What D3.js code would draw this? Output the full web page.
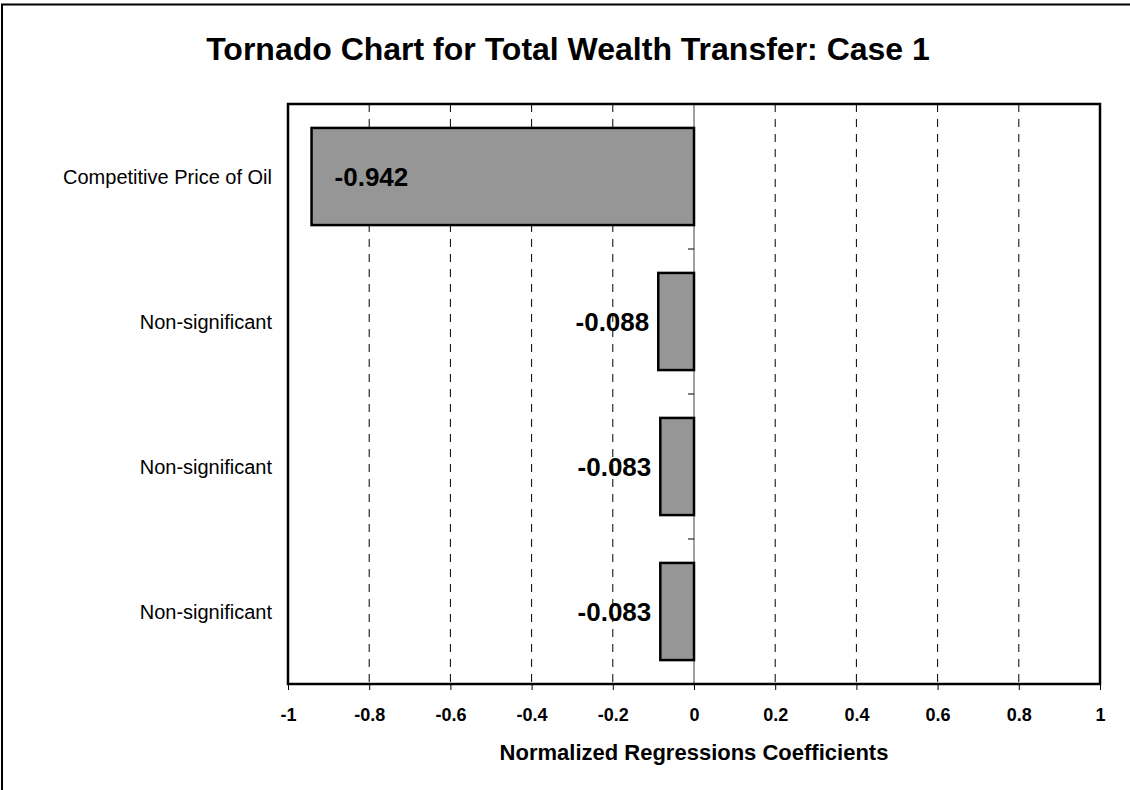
<!DOCTYPE html>
<html>
<head>
<meta charset="utf-8">
<script src="https://cdn.jsdelivr.net/npm/d3@7"></script>
<style>
  body { margin: 0; background: #fff; }
  svg { font-family: Arial, "Liberation Sans", sans-serif; }
</style>
</head>
<body>
<svg id="chart"></svg>
<script>
// Chart data
const categories = ["Competitive Price of Oil", "Non-significant", "Non-significant", "Non-significant"];
const coefficients = [-0.942, -0.088, -0.083, -0.083];
const xTicks = [-1, -0.8, -0.6, -0.4, -0.2, 0, 0.2, 0.4, 0.6, 0.8, 1];

const width = 1130;
const height = 790;
const margin = { top: 104, right: 30, bottom: 106, left: 288 };

const svg = d3.select("#chart")
    .attr("width", width)
    .attr("height", height);

// outer chart border (right and bottom edges fall outside the picture)
svg.append("rect")
    .attr("x", 2).attr("y", 4.5)
    .attr("width", width + 10).attr("height", height + 10)
    .attr("fill", "white")
    .attr("stroke", "black")
    .attr("stroke-width", 2);

const x = d3.scaleLinear()
    .domain([-1, 1])
    .range([margin.left, width - margin.right]);

const y = d3.scaleBand()
    .domain(d3.range(categories.length))
    .range([margin.top, height - margin.bottom])
    .paddingInner(0.33)
    .paddingOuter(0.165);

const plotTop = margin.top;
const plotBottom = height - margin.bottom;

// title
svg.append("text")
    .attr("x", 568)
    .attr("y", 60)
    .attr("text-anchor", "middle")
    .style("font-size", "32px")
    .style("font-weight", "bold")
    .text("Tornado Chart for Total Wealth Transfer: Case 1");

// dashed gridlines
svg.append("g")
    .selectAll("line")
    .data(xTicks.filter(d => d !== 0 && Math.abs(d) !== 1))
    .join("line")
    .attr("x1", d => x(d)).attr("x2", d => x(d))
    .attr("y1", plotTop).attr("y2", plotBottom)
    .attr("stroke", "black")
    .attr("stroke-width", 1)
    .attr("stroke-dasharray", "8,7");

// zero axis (category axis)
svg.append("line")
    .attr("x1", x(0)).attr("x2", x(0))
    .attr("y1", plotTop).attr("y2", plotBottom)
    .attr("stroke", "#808080")
    .attr("stroke-width", 1.5);

// category separator ticks on the zero axis
svg.append("g")
    .selectAll("line")
    .data(d3.range(1, categories.length))
    .join("line")
    .attr("x1", x(0) - 6).attr("x2", x(0))
    .attr("y1", i => plotTop + i * (plotBottom - plotTop) / categories.length)
    .attr("y2", i => plotTop + i * (plotBottom - plotTop) / categories.length)
    .attr("stroke", "black")
    .attr("stroke-width", 1);

// bars
svg.append("g")
    .selectAll("rect")
    .data(coefficients)
    .join("rect")
    .attr("x", d => x(Math.min(0, d)))
    .attr("width", d => Math.abs(x(d) - x(0)))
    .attr("y", (d, i) => y(i))
    .attr("height", y.bandwidth())
    .attr("fill", "#969696")
    .attr("stroke", "black")
    .attr("stroke-width", 2.5);

// value labels: inside the long bar, outside the short ones
svg.append("g")
    .selectAll("text")
    .data(coefficients)
    .join("text")
    .attr("x", d => Math.abs(x(d) - x(0)) > 100 ? x(d) + 23 : x(d) - 9)
    .attr("y", (d, i) => y(i) + y.bandwidth() / 2)
    .attr("dy", "0.35em")
    .attr("text-anchor", d => Math.abs(x(d) - x(0)) > 100 ? "start" : "end")
    .style("font-size", "26px")
    .style("font-weight", "bold")
    .text(d => d.toFixed(3));

// category labels
svg.append("g")
    .selectAll("text")
    .data(categories)
    .join("text")
    .attr("x", 272)
    .attr("y", (d, i) => y(i) + y.bandwidth() / 2)
    .attr("dy", "0.35em")
    .attr("text-anchor", "end")
    .style("font-size", "20px")
    .text(d => d);

// plot frame
svg.append("rect")
    .attr("x", margin.left).attr("y", plotTop)
    .attr("width", x(1) - x(-1))
    .attr("height", plotBottom - plotTop)
    .attr("fill", "none")
    .attr("stroke", "black")
    .attr("stroke-width", 2.5);

// x axis
const xAxis = d3.axisBottom(x)
    .tickValues(xTicks)
    .tickFormat(d => String(+d.toFixed(1)))
    .tickSize(6)
    .tickPadding(18);

const gx = svg.append("g")
    .attr("transform", `translate(0,${plotBottom})`)
    .call(xAxis);
gx.select(".domain").remove();
gx.selectAll(".tick line").attr("stroke", "black");
gx.selectAll(".tick text")
    .style("font-family", "Arial, 'Liberation Sans', sans-serif")
    .style("font-size", "18px")
    .style("font-weight", "bold")
    .attr("fill", "black");

svg.append("text")
    .attr("x", x(0))
    .attr("y", 760)
    .attr("text-anchor", "middle")
    .style("font-size", "22px")
    .style("font-weight", "bold")
    .text("Normalized Regressions Coefficients");
</script>
</body>
</html>
